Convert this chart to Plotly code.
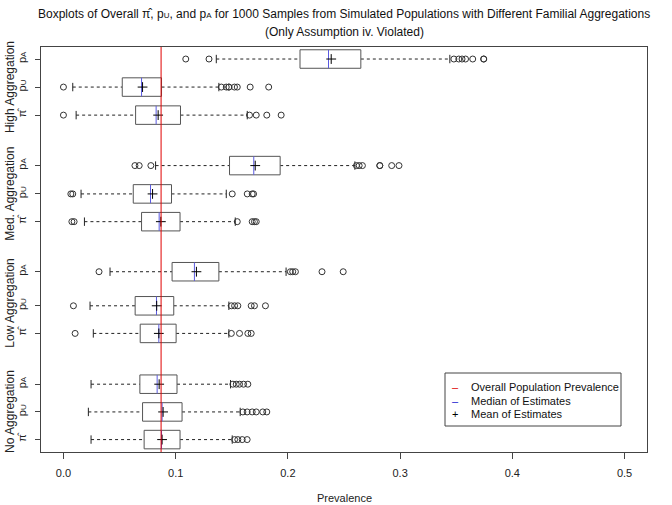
import plotly.graph_objects as go

# ---------------- data (bottom to top) ----------------
groups = ["No Aggregation", "Low Aggregation", "Med. Aggregation", "High Aggregation"]
estimators = ["π̂", "pU", "pA"]
tick_labels = ["π̂", "p<span style='font-size:8px'>U</span>", "p<span style='font-size:8px'>A</span>"] * 4

q1 = [0.0719, 0.0705, 0.0681, 0.0684, 0.0639, 0.0968, 0.0696, 0.0622, 0.1480, 0.0643, 0.0524, 0.2108]
medians = [0.0874, 0.0879, 0.0835, 0.0850, 0.0829, 0.1167, 0.0853, 0.0776, 0.1696, 0.0826, 0.0696, 0.2362]
means = [0.0879, 0.0888, 0.0853, 0.0850, 0.0831, 0.1185, 0.0868, 0.0794, 0.1709, 0.0844, 0.0705, 0.2386]
q3 = [0.1039, 0.1057, 0.1012, 0.1004, 0.0983, 0.1385, 0.1039, 0.0963, 0.1931, 0.1043, 0.0874, 0.2650]
whisk_lo = [0.0246, 0.0222, 0.0246, 0.0266, 0.0237, 0.0415, 0.0187, 0.0157, 0.0821, 0.0113, 0.0083, 0.1362]
whisk_hi = [0.1504, 0.1575, 0.1489, 0.1474, 0.1474, 0.1984, 0.1531, 0.1451, 0.2597, 0.1638, 0.1385, 0.3443]
outliers = [
    [0.1525, 0.1554, 0.1593, 0.1637],
    [0.1599, 0.1637, 0.1682, 0.1718, 0.1776, 0.1812],
    [0.1510, 0.1540, 0.1569, 0.1605, 0.1643],
    [0.0104, 0.1496, 0.1569, 0.1643, 0.1673],
    [0.0089, 0.1496, 0.1525, 0.1554, 0.1673, 0.1702, 0.1800],
    [0.0317, 0.2022, 0.2043, 0.2067, 0.2304, 0.2493],
    [0.0075, 0.0095, 0.1549, 0.1682, 0.1702, 0.1718],
    [0.0066, 0.0083, 0.1504, 0.1638, 0.1682, 0.1694],
    [0.0637, 0.0675, 0.0779, 0.2611, 0.2635, 0.2664, 0.2819, 0.2819, 0.2925, 0.2990],
    [0.0000, 0.1658, 0.1718, 0.1812, 0.1940],
    [0.0000, 0.1407, 0.1451, 0.1474, 0.1474, 0.1524, 0.1549, 0.1664, 0.1829],
    [0.1090, 0.1297, 0.3479, 0.3523, 0.3552, 0.3583, 0.3647, 0.3745, 0.3745],
]
prevalence = 0.087
x_ticks = [0.0, 0.1, 0.2, 0.3, 0.4, 0.5]

# ---------------- layout helpers ----------------
y_pos = [0.443, 1.429, 2.418, 4.229, 5.214, 6.429, 8.214, 9.204, 10.214, 12.014, 13.014, 14.014]
half = 0.33
cap = 0.15

L, R, T, B = 41, 647, 47, 452
W, H = 672, 505

def xpaper(px):
    return (px - L) / (R - L)

def ypaper(py):
    return (B - py) / (B - T)

bx, by, wx, wy, cx, cy, mx, my, ox, oy = [], [], [], [], [], [], [], [], [], []
for i, y in enumerate(y_pos):
    bx += [q1[i], q3[i], q3[i], q1[i], q1[i], None]
    by += [y - half, y - half, y + half, y + half, y - half, None]
    wx += [whisk_lo[i], q1[i], None, q3[i], whisk_hi[i], None]
    wy += [y, y, None, y, y, None]
    cx += [whisk_lo[i], whisk_lo[i], None, whisk_hi[i], whisk_hi[i], None]
    cy += [y - cap, y + cap, None, y - cap, y + cap, None]
    mx += [medians[i], medians[i], None]
    my += [y - half, y + half, None]
    ox += outliers[i]
    oy += [y] * len(outliers[i])

fig = go.Figure()
fig.add_trace(go.Scatter(x=wx, y=wy, mode="lines", line=dict(color="#222", width=1, dash="3px,3px"),
                         showlegend=False, hoverinfo="skip"))
fig.add_trace(go.Scatter(x=cx, y=cy, mode="lines", line=dict(color="#222", width=1),
                         showlegend=False, hoverinfo="skip"))
fig.add_trace(go.Scatter(x=bx, y=by, mode="lines", fill="toself", fillcolor="white",
                         line=dict(color="#555", width=1), showlegend=False, hoverinfo="skip"))
fig.add_trace(go.Scatter(x=mx, y=my, mode="lines", line=dict(color="#5a5ae0", width=1),
                         showlegend=False, hoverinfo="skip"))
fig.add_trace(go.Scatter(x=ox, y=oy, mode="markers",
                         marker=dict(symbol="circle-open", size=6, color="#333", line=dict(width=1)),
                         showlegend=False))
fig.add_trace(go.Scatter(x=means, y=y_pos, mode="markers",
                         marker=dict(symbol="cross-thin", size=7, line=dict(color="black", width=1)),
                         showlegend=False))

fig.add_shape(type="line", x0=prevalence, x1=prevalence, y0=0, y1=1, yref="paper",
              line=dict(color="#e00000", width=1))

font = "Liberation Sans, Arial, Helvetica, sans-serif"
for g, name in enumerate(groups):
    yc = sum(y_pos[3 * g:3 * g + 3]) / 3
    fig.add_annotation(x=xpaper(10), xref="paper", y=yc, yref="y", text=name,
                       xanchor="center", yanchor="middle",
                       textangle=-90, showarrow=False, font=dict(size=12, color="#222"))

fig.add_annotation(x=xpaper(344), xref="paper", y=ypaper(14), yref="paper", showarrow=False,
                   xanchor="center", yanchor="middle",
                   text="Boxplots of Overall π̂, p<span style='font-size:8px'>U</span>, and "
                        "p<span style='font-size:8px'>A</span> for 1000 Samples from Simulated "
                        "Populations with Different Familial Aggregations",
                   font=dict(size=12, color="#111"))
fig.add_annotation(x=xpaper(344), xref="paper", y=ypaper(32), yref="paper", showarrow=False,
                   xanchor="center", yanchor="middle",
                   text="(Only Assumption iv. Violated)", font=dict(size=12, color="#111"))
fig.add_annotation(x=xpaper(344), xref="paper", y=ypaper(498), yref="paper", showarrow=False,
                   xanchor="center", yanchor="middle",
                   text="Prevalence", font=dict(size=11, color="#222"))

# legend (manual box)
fig.add_shape(type="rect", xref="paper", yref="paper", x0=xpaper(445), x1=xpaper(621),
              y0=ypaper(426), y1=ypaper(373), line=dict(color="#444", width=1), fillcolor="white")
leg_items = [("Overall Population Prevalence", "–", "#e00000"),
             ("Median of Estimates", "–", "#2020d0"),
             ("Mean of Estimates", "+", "black")]
for k, (txt, sym, col) in enumerate(leg_items):
    yy = ypaper(387.3 + 13.3 * k)
    fig.add_annotation(x=xpaper(455), xref="paper", y=yy, yref="paper", showarrow=False,
                       text=sym, font=dict(size=11, color=col), xanchor="center", yanchor="middle")
    fig.add_annotation(x=xpaper(469), xref="paper", y=yy, yref="paper", showarrow=False,
                       text=txt, font=dict(size=11, color="#111"), xanchor="left", yanchor="middle")

fig.update_layout(
    width=W, height=H,
    margin=dict(l=L, r=W - R, t=T, b=H - B, autoexpand=False),
    paper_bgcolor="white", plot_bgcolor="white",
    font=dict(family=font, size=11, color="#222"),
    showlegend=False,
    xaxis=dict(range=[-0.02, 0.52], tickvals=x_ticks, ticktext=[f"{v:.1f}" for v in x_ticks],
               showgrid=False, zeroline=False, showline=True, mirror=True, linecolor="#444",
               ticks="outside", ticklen=6, tickcolor="#444", tickfont=dict(size=11),
               automargin=False, ticklabelstandoff=5),
    yaxis=dict(range=[0, 14.443], tickvals=y_pos, ticktext=tick_labels, tickangle=-90,
               showgrid=False, zeroline=False, showline=True, mirror=True, linecolor="#444",
               ticks="outside", ticklen=5, tickcolor="#444", tickfont=dict(size=11),
               automargin=False, ticklabelstandoff=5),
)

fig.write_html("out.html", config={"displayModeBar": False},
               post_script="document.body.style.margin='0';document.body.style.overflow='hidden';")
